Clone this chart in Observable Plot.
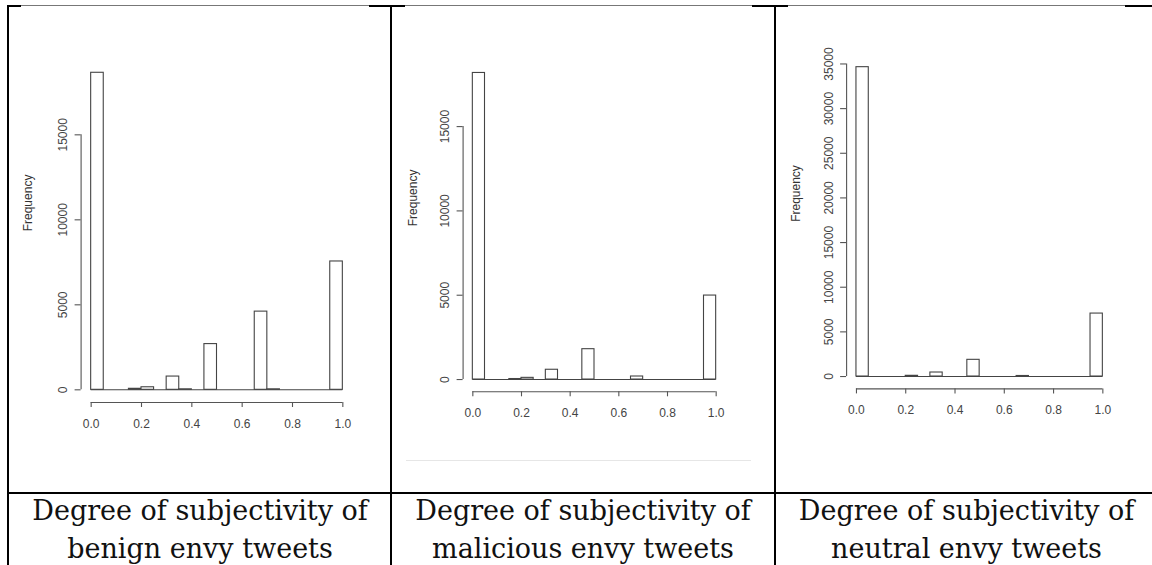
<!DOCTYPE html>
<html><head><meta charset="utf-8">
<script src="https://cdn.jsdelivr.net/npm/d3@7"></script>
<script src="https://cdn.jsdelivr.net/npm/@observablehq/plot@0.6"></script>
<style>
html,body{margin:0;padding:0;background:#fff;}
#page{position:relative;width:1152px;height:565px;overflow:hidden;background:#fff;}
.ln{position:absolute;background:#000;}
.cap{position:absolute;top:491.5px;width:380px;font-family:"DejaVu Serif",Georgia,serif;font-size:27px;line-height:38px;text-align:center;color:#111;white-space:nowrap;}
.chart{position:absolute;top:0;}
</style></head><body><div id="page"></div>
<script>
// ---- data ----
const binEdges = [0, 0.05, 0.1, 0.15, 0.2, 0.25, 0.3, 0.35, 0.4, 0.45, 0.5, 0.55, 0.6, 0.65, 0.7, 0.75, 0.8, 0.85, 0.9, 0.95, 1.0];
const benignCounts    = [18650, 0, 0, 60, 150, 0, 780, 30, 0, 2690, 0, 0, 0, 4600, 30, 0, 0, 0, 0, 7550];
const maliciousCounts = [18180, 0, 0, 30, 100, 0, 580, 0, 0, 1800, 0, 0, 0, 180, 0, 0, 0, 0, 0, 4980];
const neutralCounts   = [34640, 0, 0, 0, 80, 0, 450, 0, 0, 1870, 0, 0, 0, 60, 0, 0, 0, 0, 0, 7050];
const xTicks = [0, 0.2, 0.4, 0.6, 0.8, 1.0];
const benignYTicks = [0, 5000, 10000, 15000];
const maliciousYTicks = [0, 5000, 10000, 15000];
const neutralYTicks = [0, 5000, 10000, 15000, 20000, 25000, 30000, 35000];
const yLabel = "Frequency";
const captions = [
  ["Degree of subjectivity of", "benign envy tweets"],
  ["Degree of subjectivity of", "malicious envy tweets"],
  ["Degree of subjectivity of", "neutral envy tweets"]
];

// ---- layout ----
const page = document.getElementById("page");
function line(x, y, w, h, color) {
  const d = document.createElement("div");
  d.className = "ln";
  Object.assign(d.style, {left: x + "px", top: y + "px", width: w + "px", height: h + "px", background: color || "#000"});
  page.appendChild(d);
}

function hist(counts, yTicks, L) {
  const rows = counts.map((c, i) => ({lo: binEdges[i], hi: binEdges[i + 1], n: c}));
  const lo = binEdges[0], hi = binEdges[binEdges.length - 1];
  const pad = 0.04 * (hi - lo);
  const ymax = d3.max(counts);
  const yLo = -0.04 * ymax, yHi = 1.04 * ymax;
  const svg = Plot.plot({
    width: L.w, height: 493,
    marginLeft: L.mL, marginRight: L.mR, marginTop: L.mT, marginBottom: L.mB,
    x: {domain: [lo - pad, hi + pad]},
    y: {domain: [yLo, yHi]},
    style: {fontFamily: "'Liberation Sans', Arial, sans-serif", fontSize: "12px", color: "#444", background: "transparent", overflow: "visible"},
    marks: [
      Plot.rect(rows, {x1: "lo", x2: "hi", y1: 0, y2: "n", fill: "white", stroke: "#444", strokeWidth: 1.1}),
      Plot.ruleY([0], {x1: lo, x2: hi, stroke: "#444", strokeWidth: 1.1}),
      Plot.ruleX([lo - pad], {y1: yTicks[0], y2: yTicks[yTicks.length - 1], stroke: "#555", strokeWidth: 1.1}),
      Plot.axisY({ticks: yTicks, tickSize: 6, tickPadding: 8, tickRotate: -90, label: null, stroke: "#555", strokeWidth: 1.1, fontSize: 12, fill: "#444", tickFormat: d => String(d)}),
      Plot.ruleY([yLo], {x1: xTicks[0], x2: xTicks[xTicks.length - 1], stroke: "#555", strokeWidth: 1.1}),
      Plot.axisX({ticks: xTicks, tickSize: 5, tickPadding: 12, label: null, stroke: "#555", strokeWidth: 1.1, fontSize: 12, fill: "#444", tickFormat: d => d.toFixed(1)}),
      Plot.text([yLabel], {frameAnchor: "left", rotate: -90, dx: -L.lab, fill: "#333", fontSize: 12})
    ]
  });
  svg.classList.add("chart");
  svg.style.left = L.left + "px";
  page.appendChild(svg);
}

hist(benignCounts, benignYTicks, {left: 10, w: 380, mL: 70.6, mR: 37.6, mT: 59.6, mB: 91, lab: 53});
hist(maliciousCounts, maliciousYTicks, {left: 393, w: 381, mL: 69.6, mR: 48.6, mT: 60.2, mB: 101.7, lab: 50});
hist(neutralCounts, neutralYTicks, {left: 777, w: 375, mL: 69.1, mR: 39.8, mT: 54.3, mB: 104.6, lab: 50});

// faint line in the middle image
line(406, 460, 345, 1, "#e6e6e6");

// table borders
line(21, 5, 1104, 1, "#777");
line(7, 5, 14, 2);
line(369, 5, 36, 2);
line(752, 5, 36, 2);
line(1125, 5, 27, 2);
line(7, 5, 2, 560);
line(390, 5, 2, 560);
line(774, 5, 2, 560);
line(7, 492, 1145, 2);

// captions
const centers = [200, 583, 966.5];
captions.forEach((c, i) => {
  const d = document.createElement("div");
  d.className = "cap";
  d.style.left = (centers[i] - 190) + "px";
  d.innerHTML = c[0] + "<br>" + c[1];
  page.appendChild(d);
});
</script></body></html>
